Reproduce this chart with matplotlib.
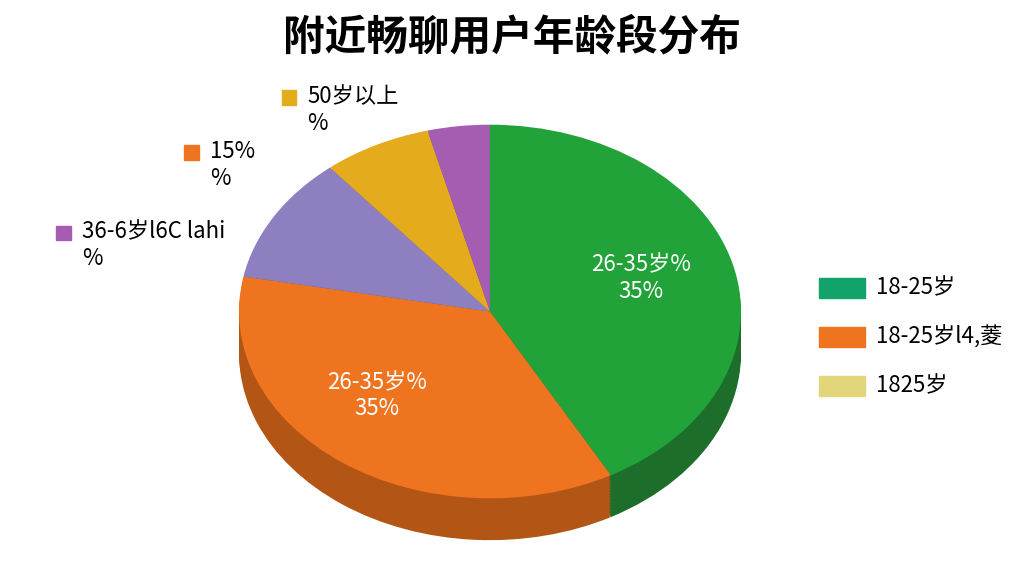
import matplotlib
matplotlib.use("Agg")
import matplotlib.pyplot as plt
from matplotlib.patches import Rectangle

plt.rcParams['font.family'] = ['Noto Sans CJK SC', 'DejaVu Sans']

shares = [42, 36, 11, 7, 4]
colors = ['#22a33a', '#ee7420', '#8e7fc0', '#e4ab1c', '#a45db0']
dark = ['#1c6e2a', '#b35515', '#645a8a', '#a87c12', '#774285']
inner_labels = ['26-35岁%\n35%', '26-35岁%\n35%']
side_labels = ['50岁以上\n%', '15%\n%', '36-6岁l6C lahi\n%']
side_colors = ['#e4ab1c', '#ee7420', '#a45db0']
legend_labels = ['18-25岁', '18-25岁l4,菱', '1825岁']
legend_colors = ['#11a36a', '#ee7420', '#e3d57a']

fig = plt.figure(figsize=(10.24, 5.76), dpi=100)
fig.text(0.5, 0.935, '附近畅聊用户年龄段分布', ha='center', va='center', fontsize=30, fontweight='bold')

ax = fig.add_axes([0.2285, 0.07, 0.5, 0.72])
for k in range(14, 0, -1):
    ax.pie(shares, colors=dark, startangle=90, counterclock=False, center=(0, -0.016 * k),
           wedgeprops=dict(linewidth=0))
w, _ = ax.pie(shares, colors=colors, startangle=90, counterclock=False, center=(0, 0),
              wedgeprops=dict(linewidth=0))
ax.set_aspect('auto')
ax.set_xlim(-1.02, 1.02)
ax.set_ylim(-1.2, 1.02)
ax.text(0.6, 0.18, inner_labels[0], color='white', ha='center', va='center', fontsize=16)
ax.text(-0.45, -0.45, inner_labels[1], color='white', ha='center', va='center', fontsize=16)

pos = [(0.275, 0.83), (0.18, 0.735), (0.055, 0.595)]
for (x, y), t, c in zip(pos, side_labels, side_colors):
    fig.patches.append(Rectangle((x, y - 0.012), 0.014, 0.025, transform=fig.transFigure, color=c))
    fig.text(x + 0.025, y + 0.022, t, ha='left', va='top', fontsize=16, linespacing=1.2)

for i, (t, c) in enumerate(zip(legend_labels, legend_colors)):
    y = 0.5 - i * 0.085
    fig.patches.append(Rectangle((0.8, y - 0.018), 0.045, 0.036, transform=fig.transFigure, color=c))
    fig.text(0.855, y, t, ha='left', va='center', fontsize=16)

fig.savefig('out.png', dpi=100)
